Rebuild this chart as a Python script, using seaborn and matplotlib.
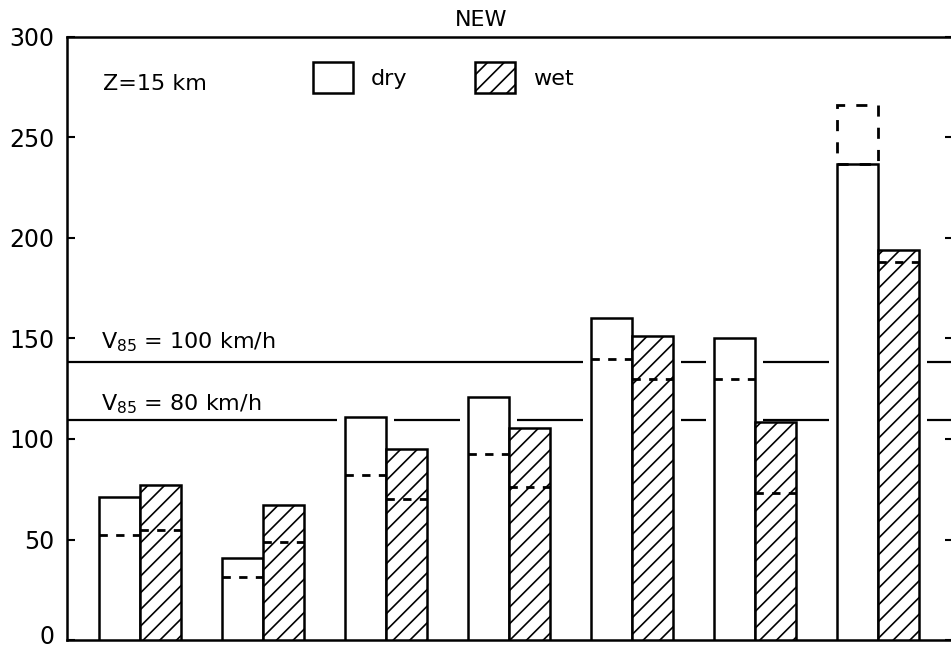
import pandas as pd
import matplotlib
import matplotlib.pyplot as plt
import matplotlib.transforms as mtransforms
import seaborn as sns
from matplotlib.patches import Patch

# values (y axis units)
cases = ["1", "2", "3", "4", "5", "6", "7"]
dry = [71, 41, 111, 121, 160, 150, 237]
wet = [77, 67, 95, 105.5, 151, 108.5, 194]
dry_dashed = [52, 31.5, 82, 92.5, 140, 130, 266]
wet_dashed = [54.5, 49, 70, 76, 130, 73, 188]
v85_labels = ["V$_{85}$ = 100 km/h", "V$_{85}$ = 80 km/h"]
v85_levels = [138.5, 109.5]
v85_label_y = [145, 114]

df = pd.DataFrame({
    "case": cases * 2,
    "surface": ["dry"] * len(cases) + ["wet"] * len(cases),
    "value": dry + wet,
})

sns.set_theme(style="ticks")
plt.rcParams["font.family"] = ["DejaVu Sans"]
plt.rcParams["text.color"] = "black"
plt.rcParams["hatch.linewidth"] = 1.2
plt.rcParams["hatch.color"] = "black"

fig = plt.figure(figsize=(9.51, 6.48), dpi=100)
ax = fig.add_axes([67 / 951, 8 / 648, 886 / 951, 603 / 648])

sns.barplot(data=df, x="case", y="value", hue="surface", hue_order=["dry", "wet"],
            palette=["white", "white"], width=0.667, edgecolor="black", linewidth=1.8,
            saturation=1, legend=False, ax=ax, zorder=3)

bar_groups = list(ax.containers)  # dry, wet

for p in bar_groups[1]:
    p.set_hatch("//")

# white gaps beside the bars where the reference lines stop
for cont in bar_groups:
    for p in cont:
        ax.bar(p.get_x() - 0.065, p.get_height(), width=p.get_width() + 0.13,
               align="edge", color="white", linewidth=0, zorder=2)

for level, label, ly in zip(v85_levels, v85_labels, v85_label_y):
    ax.axhline(level, color="black", lw=1.6, zorder=1)
    ax.text(-0.32, ly, label, fontsize=16, va="baseline", ha="left", color="black")

# dashed levels inside bars
for cont, dashed in zip(bar_groups, [dry_dashed, wet_dashed]):
    for p, val in zip(cont, dashed):
        x0 = p.get_x()
        x1 = x0 + p.get_width()
        h = p.get_height()
        if val <= h:
            ax.hlines(val, x0, x1, colors="black", linestyles=(0, (3, 3)), lw=2, zorder=4)
        else:
            ax.bar(x0, val - h, bottom=h, width=p.get_width(), align="edge", fill=False,
                   edgecolor="black", linestyle=(0, (4, 4)), lw=2, zorder=4)

ax.text(-0.30, 273.5, "Z=15 km", fontsize=16, va="baseline", ha="left", color="black")

handles = [Patch(facecolor="white", edgecolor="black", lw=1.8, label="dry"),
           Patch(facecolor="white", edgecolor="black", lw=1.8, hatch="//", label="wet")]
leg = ax.legend(handles=handles, loc="upper left", bbox_to_anchor=(0.2777, 0.9585), ncol=2,
                frameon=False, fontsize=16, handlelength=1.8, handleheight=1.8,
                handletextpad=0.8, columnspacing=3.05, borderaxespad=0, borderpad=0)
for t in leg.get_texts():
    t.set_color("black")

ax.set_title("NEW", x=0.467, pad=8, fontsize=16, color="black")

ax.set_xlim(-0.593, 6.61)
ax.set_ylim(0, 300)
ax.set_yticks(range(0, 301, 50))
ax.set_xlabel("")
ax.set_ylabel("")
ax.tick_params(axis="y", direction="in", length=6, width=1.5, labelsize=17, pad=9,
               left=True, right=True, colors="black")
ax.tick_params(axis="x", bottom=False, labelbottom=False)
for s in ax.spines.values():
    s.set_visible(True)
    s.set_linewidth(1.8)
    s.set_color("black")

# nudge the "0" label up so it stays inside the figure
zero_lab = ax.yaxis.get_major_ticks()[0].label1
zero_lab.set_transform(zero_lab.get_transform()
                       + mtransforms.ScaledTranslation(0, 0.05, fig.dpi_scale_trans))

fig.savefig("out.png", dpi=100)
